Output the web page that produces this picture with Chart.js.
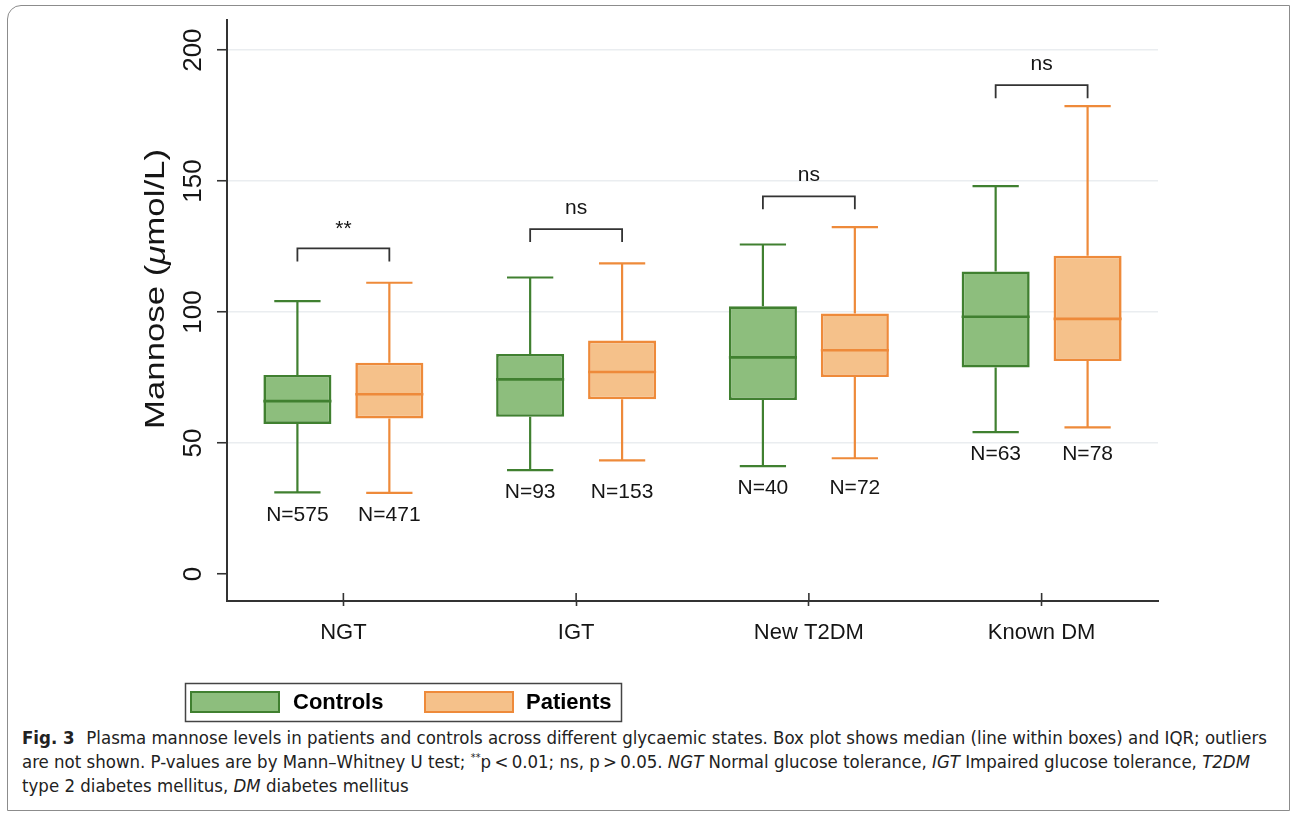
<!DOCTYPE html>
<html>
<head>
<meta charset="utf-8">
<script src="https://cdn.jsdelivr.net/npm/chart.js@4.4.1/dist/chart.umd.min.js"></script>
<style>
	html, body { margin: 0; padding: 0; background: #fff; }
	body { width: 1292px; height: 813px; position: relative; overflow: hidden; }
	#frame {
		position: absolute; left: 7px; top: 5px; width: 1283px; height: 806px;
		box-sizing: border-box; border: 1.5px solid #8c8c8c; border-radius: 14px 0 0 0;
	}
	#wrap { position: absolute; left: 0; top: 0; width: 1292px; height: 725px; }
	#caption {
		position: absolute; left: 22px; top: 726px; width: 1262px;
		font-family: 'Liberation Sans Narrow', 'DejaVu Sans Condensed', 'Liberation Sans', sans-serif;
		font-size: 17px; line-height: 24px; color: #222;
	}
	#caption .ln { display: block; white-space: nowrap; transform-origin: 0 50%; width: max-content; }
	#caption b { font-weight: bold; margin-right: 6px; }
	#caption sup { font-size: 10px; line-height: 0; vertical-align: 7px; }
</style>
</head>
<body>
<div id="frame"></div>
<div id="wrap"><canvas id="boxChart" width="1292" height="725"></canvas></div>
<div id="caption">
	<span class="ln" data-w="1245"><b>Fig. 3</b> Plasma mannose levels in patients and controls across different glycaemic states. Box plot shows median (line within boxes) and IQR; outliers</span>
	<span class="ln" data-w="1228">are not shown. P-values are by Mann–Whitney U test; <sup>**</sup>p&thinsp;&lt;&thinsp;0.01; ns, p&thinsp;&gt;&thinsp;0.05. <i>NGT</i> Normal glucose tolerance, <i>IGT</i> Impaired glucose tolerance, <i>T2DM</i></span>
	<span class="ln">type 2 diabetes mellitus, <i>DM</i> diabetes mellitus</span>
</div>
<script>
// values (µmol/L)
var categories = ['NGT', 'IGT', 'New T2DM', 'Known DM'];

var controlsMin    = [31.2, 39.7, 41.2, 54.2];
var controlsQ1     = [57.3, 60.0, 66.4, 78.8];
var controlsMedian = [66.0, 74.3, 82.7, 98.2];
var controlsQ3     = [76.0, 84.0, 102.2, 115.5];
var controlsMax    = [104.2, 113.2, 125.8, 148.1];
var controlsN      = [575, 93, 40, 63];

var patientsMin    = [31.0, 43.4, 44.2, 56.0];
var patientsQ1     = [59.4, 66.7, 75.2, 81.3];
var patientsMedian = [68.6, 77.1, 85.4, 97.4];
var patientsQ3     = [80.7, 89.1, 99.5, 121.5];
var patientsMax    = [111.2, 118.6, 132.4, 178.6];
var patientsN      = [471, 153, 72, 78];

// significance brackets: label and height of the bar
var sigLabels = ['**', 'ns', 'ns', 'ns'];
var sigLevel  = [124.3, 131.7, 144.2, 186.6];

var yTicks = [0, 50, 100, 150, 200];

var FONT = "'Liberation Sans', Arial, sans-serif";
var INK = '#151515';

var series = [
	{ label: 'Controls', min: controlsMin, q1: controlsQ1, med: controlsMedian, q3: controlsQ3, max: controlsMax, n: controlsN,
	  fill: 'rgb(141, 190, 125)', stroke: 'rgb(64, 128, 48)' },
	{ label: 'Patients', min: patientsMin, q1: patientsQ1, med: patientsMedian, q3: patientsQ3, max: patientsMax, n: patientsN,
	  fill: 'rgb(245, 193, 138)', stroke: 'rgb(238, 138, 58)' }
];

var boxExtras = {
	id: 'boxExtras',
	beforeDatasetsDraw: function(chart){
		// whiskers
		var ctx = chart.ctx, y = chart.scales.y;
		ctx.save();
		series.forEach(function(s, d){
			var meta = chart.getDatasetMeta(d);
			ctx.strokeStyle = s.stroke;
			ctx.lineWidth = 2.2;
			meta.data.forEach(function(bar, i){
				var cap = bar.width * 0.68 / 2;
				var yMin = y.getPixelForValue(s.min[i]), yMax = y.getPixelForValue(s.max[i]);
				ctx.beginPath();
				ctx.moveTo(bar.x, y.getPixelForValue(s.q3[i])); ctx.lineTo(bar.x, yMax);
				ctx.moveTo(bar.x, y.getPixelForValue(s.q1[i])); ctx.lineTo(bar.x, yMin);
				ctx.moveTo(bar.x - cap, yMax); ctx.lineTo(bar.x + cap, yMax);
				ctx.moveTo(bar.x - cap, yMin); ctx.lineTo(bar.x + cap, yMin);
				ctx.stroke();
			});
		});
		ctx.restore();
	},
	afterDatasetsDraw: function(chart){
		var ctx = chart.ctx, y = chart.scales.y, x = chart.scales.x, area = chart.chartArea;
		var m0 = chart.getDatasetMeta(0), m1 = chart.getDatasetMeta(1);
		ctx.save();

		// medians
		series.forEach(function(s, d){
			ctx.strokeStyle = s.stroke;
			ctx.lineWidth = 2.6;
			chart.getDatasetMeta(d).data.forEach(function(bar, i){
				var py = y.getPixelForValue(s.med[i]);
				ctx.beginPath();
				ctx.moveTo(bar.x - bar.width / 2, py); ctx.lineTo(bar.x + bar.width / 2, py);
				ctx.stroke();
			});
		});

		// N labels under the lowest whisker of each group
		ctx.fillStyle = INK;
		ctx.font = '21px ' + FONT;
		ctx.textAlign = 'center';
		ctx.textBaseline = 'middle';
		categories.forEach(function(c, i){
			var low = Math.max(y.getPixelForValue(controlsMin[i]), y.getPixelForValue(patientsMin[i])) + 22;
			ctx.fillText('N=' + controlsN[i], m0.data[i].x, low);
			ctx.fillText('N=' + patientsN[i], m1.data[i].x, low);
		});

		// significance brackets
		ctx.strokeStyle = '#333';
		ctx.lineWidth = 1.8;
		categories.forEach(function(c, i){
			var x1 = m0.data[i].x, x2 = m1.data[i].x, py = y.getPixelForValue(sigLevel[i]);
			ctx.beginPath();
			ctx.moveTo(x1, py + 13); ctx.lineTo(x1, py); ctx.lineTo(x2, py); ctx.lineTo(x2, py + 13);
			ctx.stroke();
			ctx.fillText(sigLabels[i], (x1 + x2) / 2, py - (sigLabels[i] == '**' ? 19 : 21));
		});

		// x ticks cross the axis line
		ctx.strokeStyle = '#333';
		ctx.lineWidth = 1.6;
		categories.forEach(function(c, i){
			var px = x.getPixelForValue(i);
			ctx.beginPath(); ctx.moveTo(px, area.bottom); ctx.lineTo(px, area.bottom - 8); ctx.stroke();
		});

		// rotated y tick labels
		ctx.font = '26px ' + FONT;
		yTicks.forEach(function(v){
			ctx.save();
			ctx.translate(194, y.getPixelForValue(v));
			ctx.rotate(-Math.PI / 2);
			ctx.fillText(String(v), 0, 0);
			ctx.restore();
		});

		// y title, with italic mu
		var parts = [['Mannose (', ''], ['\u03BC', 'italic '], ['mol/L)', '']];
		ctx.save();
		ctx.translate(157, 289);
		ctx.rotate(-Math.PI / 2);
		var widths = parts.map(function(p){ ctx.font = p[1] + '27px ' + FONT; return ctx.measureText(p[0]).width; });
		var total = widths.reduce(function(a, b){ return a + b; }, 0);
		ctx.scale(280 / total, 1);
		ctx.textAlign = 'left';
		var cx = -total / 2;
		parts.forEach(function(p, k){
			ctx.font = p[1] + '27px ' + FONT;
			ctx.fillText(p[0], cx, 0);
			cx += widths[k];
		});
		ctx.restore();

		// legend with frame
		ctx.lineWidth = 1.5;
		ctx.strokeStyle = '#444';
		ctx.strokeRect(185.5, 683.5, 436, 38);
		var sx = [190, 424], tx = [293, 526];
		ctx.font = 'bold 22px ' + FONT;
		ctx.textAlign = 'left';
		series.forEach(function(s, d){
			ctx.fillStyle = s.fill;
			ctx.fillRect(sx[d], 691, 90, 22);
			ctx.strokeStyle = s.stroke;
			ctx.lineWidth = 2;
			ctx.strokeRect(sx[d] + 1, 692, 88, 20);
			ctx.fillStyle = '#000';
			ctx.fillText(s.label, tx[d], 703);
		});
		ctx.restore();
	}
};

window.boxChart = new function buildBoxChart(){
	var ctx = document.getElementById('boxChart');
	var chart = new Chart(ctx, {
		type: 'bar',
		data: {
			labels: categories,
			datasets: series.map(function(s){
				return {
					label: s.label,
					data: s.q1.map(function(v, i){ return [v, s.q3[i]]; }),
					backgroundColor: s.fill,
					borderColor: s.stroke,
					borderWidth: 2.6,
					borderSkipped: false,
					categoryPercentage: 0.79,
					barPercentage: 0.74
				};
			})
		},
		plugins: [boxExtras],
		options: {
			responsive: false,
			animation: false,
			layout: { padding: { left: 0, right: 134, top: 20, bottom: 0 } },
			plugins: { legend: { display: false }, tooltip: { enabled: false } },
			scales: {
				x: {
					offset: true,
					grid: { offset: false, drawOnChartArea: false, drawTicks: true, tickLength: 5, tickColor: '#333', tickWidth: 1.6 },
					border: { color: '#333', width: 2 },
					ticks: { color: INK, font: { family: FONT, size: 22 }, padding: 14 },
					afterFit: function(scale){ scale.height = 124; }
				},
				y: {
					min: -10.3,
					max: 211.5,
					afterBuildTicks: function(scale){ scale.ticks = yTicks.map(function(v){ return { value: v }; }); },
					grid: {
						color: function(c){ return c.tick && c.tick.value === 0 ? 'rgba(0,0,0,0)' : '#eaedf0'; },
						lineWidth: 1.5, tickLength: 10, tickColor: '#333', tickWidth: 1.6
					},
					border: { color: '#333', width: 2 },
					ticks: { display: false },
					afterFit: function(scale){ scale.width = 227; }
				}
			}
		}
	});
	return chart;
};

// fit caption lines to the printed widths
function fitCaption(){
	var lines = document.querySelectorAll('#caption .ln');
	var last = 1;
	lines.forEach(function(el){
		var target = parseFloat(el.getAttribute('data-w'));
		var k = target ? target / el.getBoundingClientRect().width : last;
		el.style.transform = 'scaleX(' + k + ')';
		last = k;
	});
}
fitCaption();
</script>
</body>
</html>
